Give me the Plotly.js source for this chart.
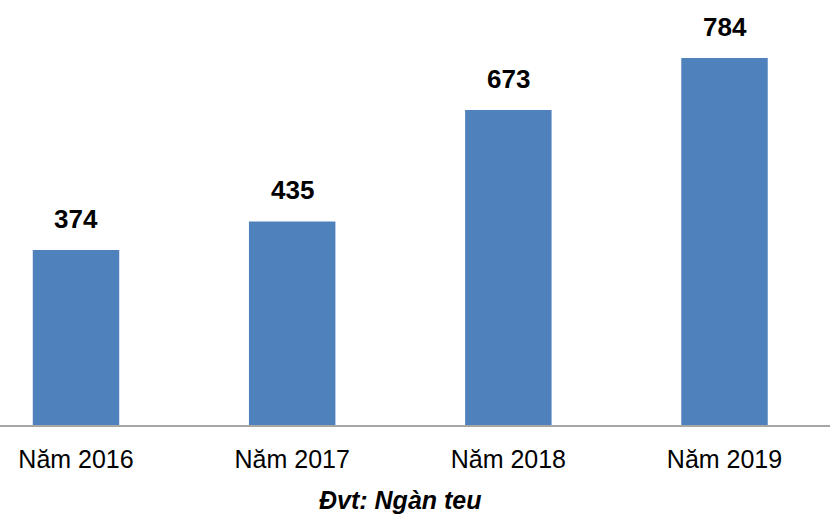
<!DOCTYPE html>
<html>
<head>
<meta charset="utf-8">
<script src="https://cdn.plot.ly/plotly-3.0.1.min.js"></script>
<style>html,body{margin:0;padding:0;background:#fff;}#chart{width:830px;height:526px;}</style>
</head>
<body>
<div id="chart"></div>
<script>
const categories = ["Năm 2016", "Năm 2017", "Năm 2018", "Năm 2019"];
const values = [374, 435, 673, 784];
const valueLabels = ["374", "435", "673", "784"];
const unitNote = "Đvt: Ngàn teu";

const trace = {
  type: "bar",
  x: categories,
  y: values,
  width: 0.4,
  marker: {color: "#4f81bd"},
  hoverinfo: "none"
};

const annotations = categories.map((c, i) => ({
  x: c, y: values[i], xref: "x", yref: "y",
  text: valueLabels[i], showarrow: false,
  yanchor: "bottom", yshift: 14,
  font: {family: "Liberation Sans, Arial", size: 26, color: "#000", weight: "bold"}
}));
annotations.push({
  xref: "paper", yref: "paper", x: 0.483, y: -0.138,
  xanchor: "center", yanchor: "top",
  text: "<b><i>" + unitNote + "</i></b>", showarrow: false,
  font: {family: "Liberation Sans, Arial", size: 25, color: "#000"}
});

const layout = {
  width: 830, height: 526,
  margin: {l: 0, r: 0, t: 0, b: 101},
  paper_bgcolor: "#fff", plot_bgcolor: "#fff",
  showlegend: false,
  xaxis: {
    type: "category",
    range: [-0.3516, 3.488],
    showline: true, linecolor: "#a6a6a6", linewidth: 1.5,
    ticks: "", showgrid: false, zeroline: false,
    tickfont: {family: "Liberation Sans, Arial", size: 25, color: "#000"},
    ticklabelstandoff: 11
  },
  yaxis: {
    range: [0, 908], visible: false, showgrid: false, zeroline: false
  },
  annotations: annotations
};

Plotly.newPlot("chart", [trace], layout, {displayModeBar: false, staticPlot: true});
</script>
</body>
</html>
